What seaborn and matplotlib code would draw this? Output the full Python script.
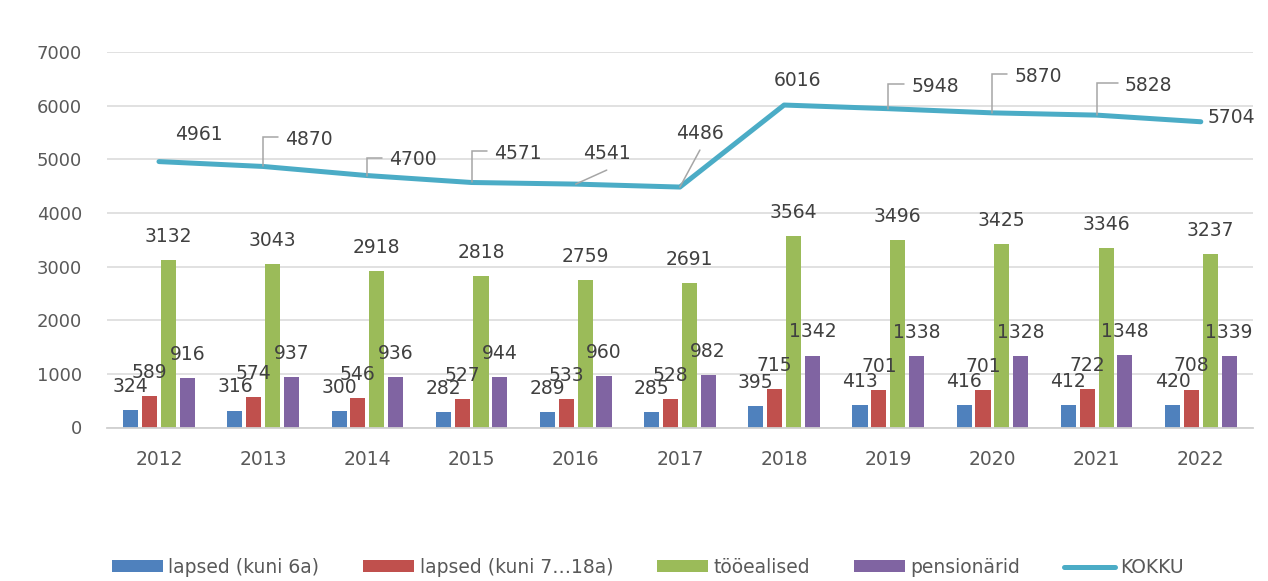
import numpy as np
import pandas as pd
import matplotlib
matplotlib.use("Agg")
import matplotlib.pyplot as plt
from matplotlib.patches import Patch
from matplotlib.lines import Line2D
import seaborn as sns

# ---------------- data ----------------
years = ["2012", "2013", "2014", "2015", "2016", "2017", "2018", "2019", "2020", "2021", "2022"]
lapsed_6 = [324, 316, 300, 282, 289, 285, 395, 413, 416, 412, 420]
lapsed_7_18 = [589, 574, 546, 527, 533, 528, 715, 701, 701, 722, 708]
tooealised = [3132, 3043, 2918, 2818, 2759, 2691, 3564, 3496, 3425, 3346, 3237]
pensionarid = [916, 937, 936, 944, 960, 982, 1342, 1338, 1328, 1348, 1339]
kokku = [4961, 4870, 4700, 4571, 4541, 4486, 6016, 5948, 5870, 5828, 5704]

series_names = ["lapsed (kuni 6a)", "lapsed (kuni 7…18a)", "tööealised", "pensionärid"]
line_name = "KOKKU"
y_ticks = [0, 1000, 2000, 3000, 4000, 5000, 6000, 7000]

colors = {"lapsed (kuni 6a)": "#4F81BD", "lapsed (kuni 7…18a)": "#C0504D",
          "tööealised": "#9BBB59", "pensionärid": "#8064A2"}
line_color = "#4BACC6"

# label placement of the KOKKU labels (pixel offsets of label centre from point, down positive)
line_label_dx = [40, 46, 46, 46, 31, 20, 13, 47, 46, 52, 31]
line_label_dy = [-28, -28, -17, -30, -32, -55, -26, -24, -38, -31, -6]
leader_kind = ["", "elbow", "elbow", "elbow", "diag", "diag", "", "elbow", "elbow", "elbow", ""]

# ---------------- build dataframe ----------------
df = pd.DataFrame({
    "year": np.repeat(years, 4),
    "group": series_names * len(years),
    "value": np.ravel(np.column_stack([lapsed_6, lapsed_7_18, tooealised, pensionarid])),
})

sns.set_theme(style="white")
plt.rcParams["font.family"] = ["DejaVu Sans"]

W, H = 1268, 581
fig = plt.figure(figsize=(W / 100, H / 100), dpi=100)
fig.patch.set_facecolor("white")
ax = fig.add_axes([106.9 / W, 1 - 427.5 / H, (1252.9 - 106.9) / W, (427.5 - 52.3) / H])

sns.barplot(data=df, x="year", y="value", hue="group", hue_order=series_names,
            order=years, palette=colors, saturation=1, width=0.724, gap=0.2,
            linewidth=0, errorbar=None, legend=False, ax=ax, zorder=2)

xs = np.arange(len(years))
sns.lineplot(x=xs, y=kokku, color=line_color, linewidth=3.6, ax=ax, zorder=3,
             solid_capstyle="round", solid_joinstyle="round")

ax.set_xlim(-0.5, len(years) - 0.5)
ax.set_ylim(0, 7000)
ax.set_yticks(y_ticks)
ax.set_yticklabels([str(t) for t in y_ticks])
ax.set_xlabel("")
ax.set_ylabel("")
for s in ax.spines.values():
    s.set_visible(False)
ax.spines["bottom"].set_visible(True)
ax.spines["bottom"].set_color("#D0D0D0")
ax.spines["bottom"].set_linewidth(1.3)
ax.grid(axis="y", color="#D9D9D9", linewidth=1.1, zorder=0)
ax.set_axisbelow(True)
ax.tick_params(axis="y", length=0, pad=18, labelsize=13, labelcolor="#595959")
ax.tick_params(axis="x", length=0, pad=16, labelsize=13.5, labelcolor="#595959")

label_color = "#404040"
fs = 13.5
half_h = 6.9

# bar labels
for cont in ax.containers:
    for patch in cont.patches:
        h = patch.get_height()
        xc = patch.get_x() + patch.get_width() / 2
        ax.annotate(f"{int(round(h))}", xy=(xc, h), xytext=(0, 25 - half_h),
                    textcoords="offset pixels", ha="center", va="baseline",
                    fontsize=fs, color=label_color, zorder=5)

# line labels + leaders
fig.canvas.draw()
inv = ax.transData.inverted()
for i, v in enumerate(kokku):
    dx, dy = line_label_dx[i], line_label_dy[i]
    ax.annotate(f"{v}", xy=(i, v), xytext=(dx, -(dy + half_h)),
                textcoords="offset pixels", ha="center", va="baseline",
                fontsize=fs, color=label_color, zorder=5)
    p = ax.transData.transform((i, v))
    if leader_kind[i] == "elbow":
        left = dx - 24
        verts = [(0, 0), (0, dy - 1), (left - 7, dy - 1)]
    elif leader_kind[i] == "diag":
        verts = [(0, 0), (dx, dy + 18)]
    else:
        continue
    disp = np.array([(p[0] + a, p[1] - b) for a, b in verts])
    d = inv.transform(disp)
    ax.plot(d[:, 0], d[:, 1], color="#A6A6A6", linewidth=1.1, zorder=4,
            solid_joinstyle="miter")

# legend
handles = [Patch(facecolor=colors[n], edgecolor="none") for n in series_names]
handles.append(Line2D([0], [0], color=line_color, linewidth=3.6, solid_capstyle="round"))
labels = series_names + [line_name]
fig.legend(handles, labels, loc="center", bbox_to_anchor=(0.511, 1 - 567.5 / H),
           ncol=5, frameon=False, handlelength=2.72, handleheight=0.6,
           handletextpad=0.27, columnspacing=2.35, fontsize=13.5,
           labelcolor="#595959", borderpad=0.2)

fig.savefig("out.png", dpi=100, facecolor="white")
